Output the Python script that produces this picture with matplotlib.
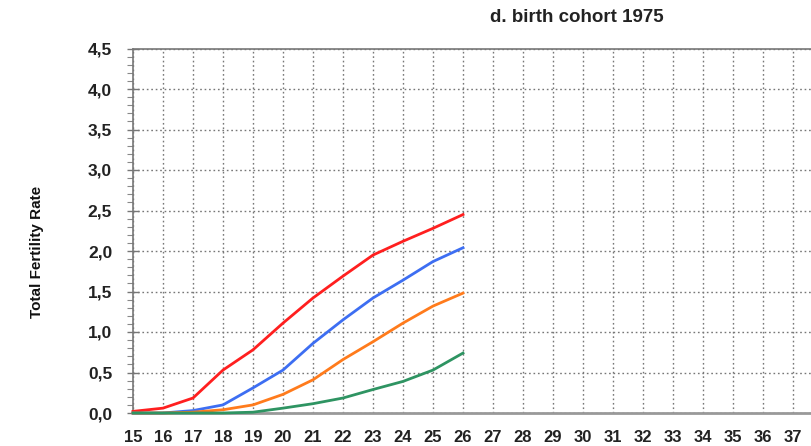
import matplotlib
matplotlib.use("Agg")
import matplotlib.pyplot as plt
from matplotlib.ticker import MultipleLocator, FuncFormatter

ages = [15, 16, 17, 18, 19, 20, 21, 22, 23, 24, 25, 26]
red = [0.02, 0.06, 0.185, 0.53, 0.78, 1.11, 1.42, 1.69, 1.95, 2.12, 2.28, 2.45]
blue = [0.0, 0.0, 0.03, 0.10, 0.31, 0.53, 0.86, 1.15, 1.42, 1.64, 1.87, 2.04]
orange = [0.0, 0.0, 0.01, 0.04, 0.10, 0.23, 0.41, 0.66, 0.88, 1.11, 1.32, 1.48]
green = [0.0, 0.0, 0.0, 0.0, 0.01, 0.06, 0.115, 0.185, 0.29, 0.39, 0.53, 0.74]
xticks = list(range(15, 38))
title = "d. birth cohort 1975"
ylabel = "Total Fertility Rate"

plt.rcParams['font.family'] = ['Liberation Sans', 'DejaVu Sans']

fig = plt.figure(figsize=(8.12, 4.46), dpi=100)
ax = fig.add_axes([133/812, 33/446, 1 - 133/812, (413 - 48.5)/446])

series = [(red, '#ff1f1f'), (blue, '#3d6ef2'), (orange, '#ff7b1c'), (green, '#2e9462')]
for vals, c in series:
    ax.plot(ages, vals, color=c, lw=2.0, solid_joinstyle='round', clip_on=False, zorder=3)

ax.set_xlim(15, 15 + (812 - 133) / 30)
ax.set_ylim(0, 4.5)
ax.set_xticks(xticks)
ax.set_xticklabels([str(t) for t in xticks], fontsize=12, fontweight='bold', color='#222222')
ax.yaxis.set_major_locator(MultipleLocator(0.5))
ax.yaxis.set_minor_locator(MultipleLocator(0.1))
ax.yaxis.set_major_formatter(FuncFormatter(lambda v, p: f"{v:.1f}".replace('.', ',')))
ax.tick_params(axis='y', which='major', direction='inout', length=8, width=1, color='#777777',
               labelsize=12.5, labelcolor='#222222', pad=11)
ax.tick_params(axis='y', which='minor', direction='out', length=4, width=0.8, color='#888888')
ax.tick_params(axis='x', which='major', length=0, pad=12)
for lab in ax.get_yticklabels():
    lab.set_fontweight('bold')

ax.grid(True, which='major', linestyle=(0, (1.2, 2.0)), color='#777777', linewidth=1.0)
for s in ['left', 'top']:
    ax.spines[s].set_color('#777777')
    ax.spines[s].set_linewidth(1.2)
ax.spines['bottom'].set_color('#999999')
ax.spines['bottom'].set_linewidth(2.0)
ax.spines['right'].set_visible(False)

fig.text(577/812, 1 - 17/446, title, ha='center', va='center', fontsize=13.5, fontweight='bold', color='#222222')
fig.text(37/812, 1 - 252/446, ylabel, ha='center', va='center', rotation=90, fontsize=11,
         fontweight='bold', color='#111111')

fig.savefig('out.png', dpi=100)
